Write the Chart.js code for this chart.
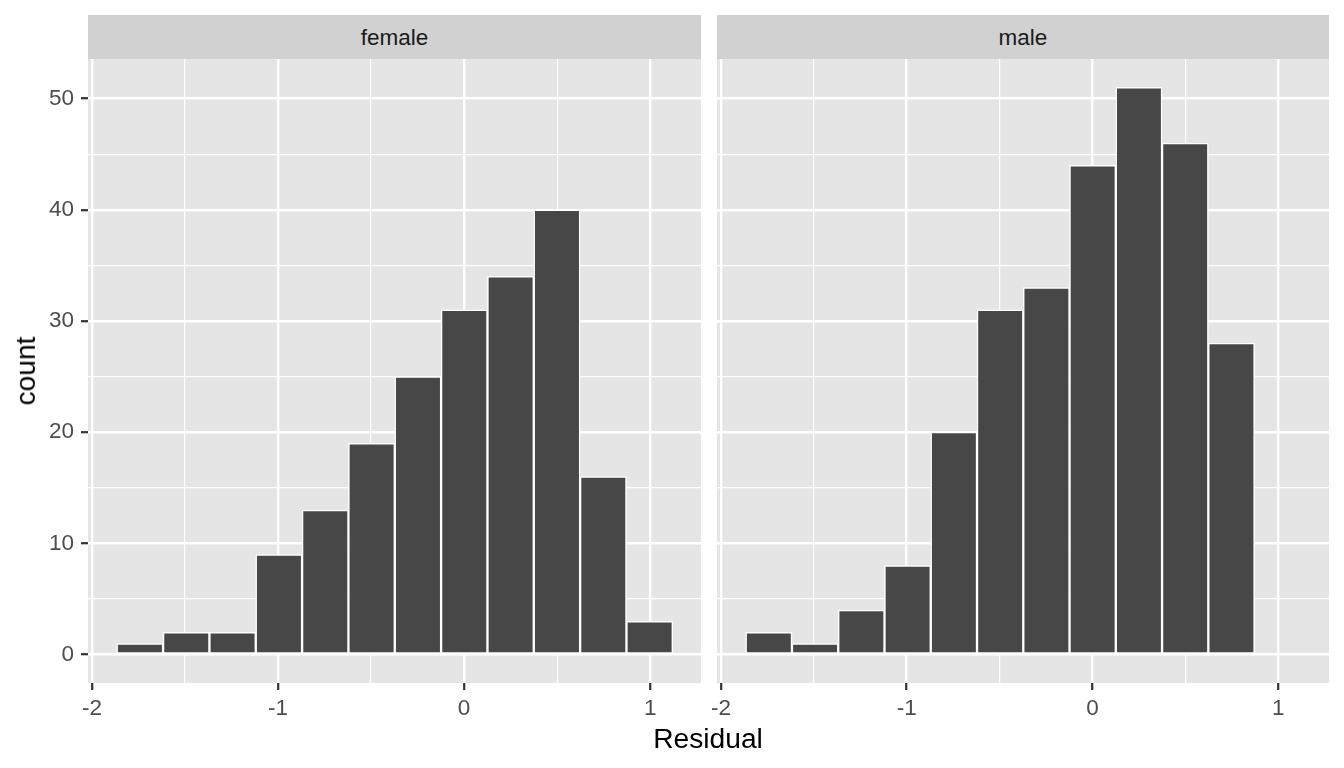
<!DOCTYPE html>
<html>
<head>
<meta charset="utf-8">
<script src="https://cdn.jsdelivr.net/npm/chart.js@4.4.0/dist/chart.umd.min.js"></script>
<style>
  html, body { margin: 0; padding: 0; background: #fff; }
  body { width: 1344px; height: 768px; position: relative; overflow: hidden;
         font-family: "Liberation Sans", Arial, Helvetica, sans-serif; }
  .strip { position: absolute; top: 15px; height: 44px; line-height: 46px; background: #D1D1D1;
           color: #1A1A1A; font-size: 22.5px; text-align: center; }
  .panel { position: absolute; top: 19px; height: 749px; }
  #ytitle { position: absolute; left: 25px; top: 371px; font-size: 28.2px; line-height: 28.2px;
            transform: translate(-50%, -50%) rotate(-90deg); white-space: nowrap; color: #000; }
  #xtitle { position: absolute; left: 508px; width: 400px; top: 724px; font-size: 28.2px;
            line-height: 28.2px; text-align: center; color: #000; }
</style>
</head>
<body>
<div class="strip" style="left:88px;width:613px">female</div>
<div class="strip" style="left:717px;width:612px">male</div>
<div class="panel" style="left:0;width:701px"><canvas id="femaleChart"></canvas></div>
<div class="panel" style="left:702px;width:627px"><canvas id="maleChart"></canvas></div>
<div id="ytitle">count</div>
<div id="xtitle">Residual</div>
<script>
// bins shared by both facets (centres)
const binCenters = [-1.742, -1.493, -1.244, -0.995, -0.746, -0.497, -0.248, 0.001, 0.250, 0.499, 0.748, 0.997];
const femaleCounts = [1, 2, 2, 9, 13, 19, 25, 31, 34, 40, 16, 3];
const maleCounts = [2, 1, 4, 8, 20, 31, 33, 44, 51, 46, 28, 0];
const xTicks = [-2, -1.5, -1, -0.5, 0, 0.5, 1];
const yTicks = [0, 5, 10, 15, 20, 25, 30, 35, 40, 45, 50];

Chart.defaults.font.family = '"Liberation Sans", Arial, Helvetica, sans-serif';

const panelBg = {
  id: 'panelBg',
  beforeDraw(chart) {
    const a = chart.chartArea;
    const ctx = chart.ctx;
    ctx.save();
    ctx.fillStyle = '#E5E5E5';
    ctx.fillRect(a.left, a.top, a.right - a.left, a.bottom - a.top);
    ctx.restore();
  }
};

const xMajor = v => Number.isInteger(v);
const yMajor = v => v % 10 === 0;

function makePanel(id, counts, showY) {
  const points = binCenters.map((x, i) => ({x: x, y: counts[i]}));
  return new Chart(document.getElementById(id), {
    type: 'bar',
    data: {
      datasets: [{
        data: points,
        backgroundColor: '#474747',
        borderColor: '#ffffff',
        borderWidth: 1.5,
        borderSkipped: false,
        barPercentage: 1,
        categoryPercentage: 1
      }]
    },
    options: {
      animation: false,
      responsive: true,
      maintainAspectRatio: false,
      layout: { padding: { top: 40 } },
      plugins: { legend: { display: false }, tooltip: { enabled: false } },
      scales: {
        x: {
          type: 'linear',
          min: -2.021,
          max: 1.273,
          offset: false,
          afterBuildTicks: s => { s.ticks = xTicks.map(v => ({value: v})); },
          afterFit: s => { s.height = 85; },
          border: { display: false },
          grid: {
            offset: false,
            color: '#ffffff',
            lineWidth: c => (c.tick && xMajor(c.tick.value)) ? 2.4 : 1.2,
            tickColor: c => (c.tick && xMajor(c.tick.value)) ? '#333333' : 'rgba(0,0,0,0)',
            tickWidth: 2.2,
            tickLength: 7
          },
          ticks: {
            autoSkip: false,
            maxRotation: 0,
            minRotation: 0,
            padding: 5,
            color: '#4D4D4D',
            font: { size: 22.5 },
            callback: v => xMajor(v) ? String(v) : ''
          }
        },
        y: {
          min: -2.55,
          max: 53.55,
          afterBuildTicks: s => { s.ticks = yTicks.map(v => ({value: v})); },
          afterFit: s => { s.width = showY ? 88 : 15; },
          border: { display: false },
          grid: {
            color: '#ffffff',
            lineWidth: c => (c.tick && yMajor(c.tick.value)) ? 2.4 : 1.2,
            drawTicks: showY,
            tickColor: c => (c.tick && yMajor(c.tick.value)) ? '#333333' : 'rgba(0,0,0,0)',
            tickWidth: 2.2,
            tickLength: 7
          },
          ticks: {
            display: showY,
            padding: 7,
            color: '#4D4D4D',
            font: { size: 22.5 },
            callback: v => yMajor(v) ? String(v) : ''
          }
        }
      }
    },
    plugins: [panelBg]
  });
}

const femaleChart = makePanel('femaleChart', femaleCounts, true);
const maleChart = makePanel('maleChart', maleCounts, false);
</script>
</body>
</html>
